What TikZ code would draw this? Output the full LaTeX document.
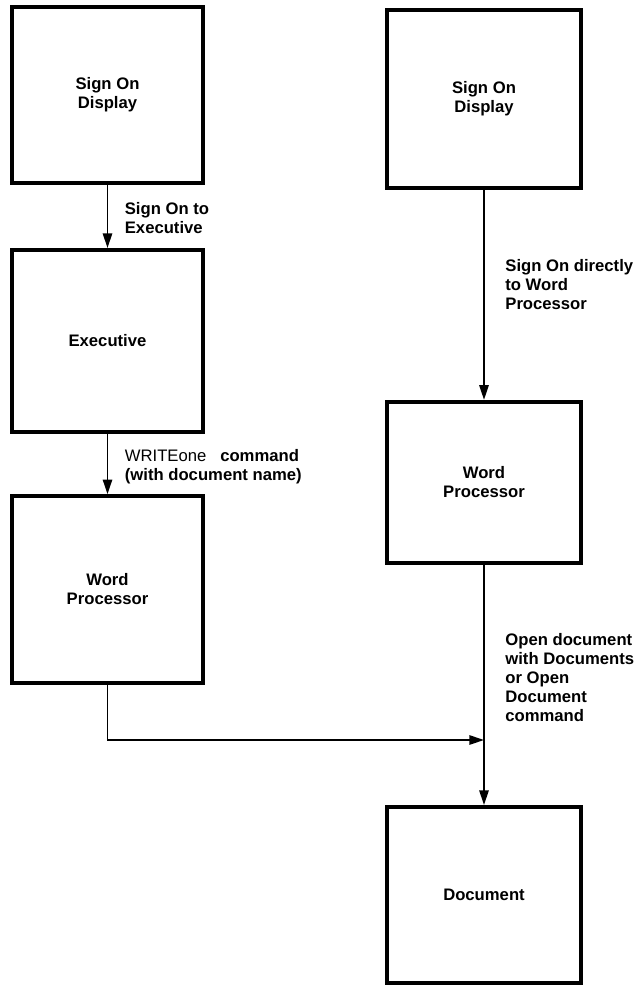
\documentclass[tikz,border=0pt]{standalone}
\usepackage{fontspec}
\setmainfont{Liberation Sans}
\usetikzlibrary{arrows.meta}

\begin{document}
\begin{tikzpicture}[x=0.75pt,y=-0.75pt,>={Triangle[length=11pt,width=7pt]}]
    \tikzset{
        stepbox/.style={
            draw,
            line width=3pt,
            rectangle,
            align=center,
            font=\fontsize{12.5}{14.3}\selectfont\bfseries
        },
        flow/.style={
            ->,
            line width=1.4pt
        },
        lab/.style={
            anchor=west,
            align=left,
            font=\fontsize{12.5}{14.3}\selectfont\bfseries
        }
    }
    \useasboundingbox (0,0) rectangle (640,985);

    % Left column: via the Executive
    \node[stepbox, minimum width=143pt, minimum height=132pt] (signl) at (107.5,95) {Sign On\\Display};
    \node[stepbox, minimum width=143pt, minimum height=136.5pt] (exec) at (107.5,341) {Executive};
    \node[stepbox, minimum width=143pt, minimum height=140pt] (wpl) at (107.5,589.5) {Word\\Processor};

    % Right column: directly to the Word Processor
    \node[stepbox, minimum width=145.5pt, minimum height=133.5pt] (signr) at (484,99) {Sign On\\Display};
    \node[stepbox, minimum width=145.5pt, minimum height=121pt] (wpr) at (484,482.5) {Word\\Processor};
    \node[stepbox, minimum width=145.5pt, minimum height=132pt] (doc) at (484,895) {Document};

    \coordinate (joint) at (484,740);

    % Connectors
    \draw[flow] (signl) -- node[lab, pos=0.52, xshift=9pt] {Sign On to\\Executive} (exec);
    \draw[flow] (exec) -- node[lab, pos=0.55, xshift=9pt] {{\mdseries WRITEone}\ \ \ command\\(with document name)} (wpl);
    \draw[flow] (signr) -- node[lab, pos=0.45, xshift=12pt] {Sign On directly\\to Word\\Processor} (wpr);
    \draw[flow] (wpl) |- (joint);
    \draw[flow] (wpr) -- node[lab, pos=0.47, xshift=12pt] {Open document\\with Documents\\or Open\\Document\\command} (doc);
\end{tikzpicture}
\end{document}
